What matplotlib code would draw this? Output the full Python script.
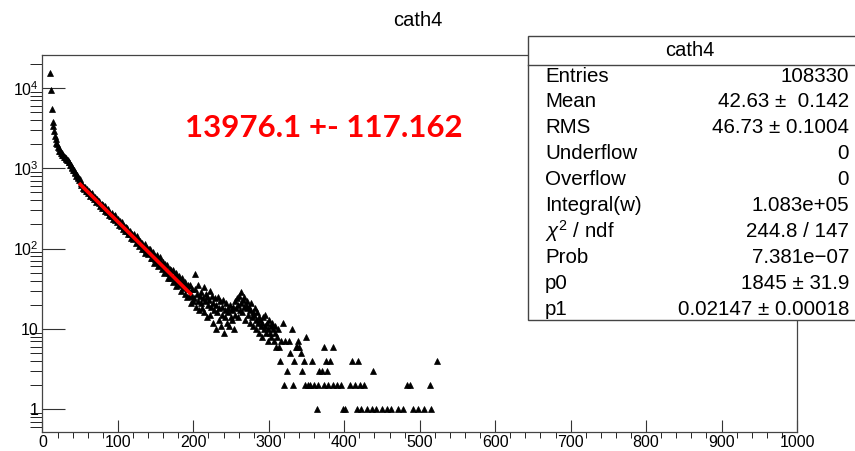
import numpy as np
import matplotlib.pyplot as plt
from matplotlib.patches import Rectangle
from matplotlib.lines import Line2D

plt.rcParams['font.family'] = ['Liberation Sans', 'DejaVu Sans']
plt.rcParams['mathtext.fontset'] = 'custom'
plt.rcParams['mathtext.rm'] = 'Liberation Sans'
plt.rcParams['mathtext.it'] = 'Liberation Sans:italic'

# histogram contents, one entry per bin of width 1, starting at bin 10
dense_start = 10
dense_counts = [
    15200, 9300, 5500, 3800, 3350, 2950, 2520, 2330, 2070, 1980,
    1820, 1790, 1660, 1650, 1540, 1560, 1450, 1470, 1370, 1400,
    1310, 1330, 1250, 1280, 1180, 1200, 1090, 1110, 1010, 1030,
    940, 955, 875, 890, 810, 835, 765, 780, 720, 735,
    652, 611, 635, 569, 585, 554, 580, 514, 544, 519,
    494, 524, 488, 452, 481, 486, 440, 445, 410, 438,
    420, 381, 412, 388, 368, 395, 339, 350, 360, 324,
    347, 320, 339, 293, 308, 288, 309, 264, 288, 272,
    257, 280, 257, 232, 255, 261, 230, 236, 212, 234,
    222, 196, 220, 204, 191, 212, 173, 183, 191, 167,
    186, 167, 182, 151, 163, 150, 166, 134, 153, 143,
    133, 151, 135, 118, 136, 142, 120, 124, 109, 126,
    118, 99, 118, 108, 99, 115, 88, 96, 103, 86,
    100, 87, 99, 77, 86, 77, 90, 67, 81, 75,
    68, 82, 71, 60, 73, 78, 62, 66, 55, 68,
    63, 50, 64, 57, 51, 63, 43, 50, 55, 43,
    54, 45, 54, 38, 45, 39, 49, 34, 44, 39,
    35, 45, 37, 30, 40, 43, 32, 35, 27, 38,
    34, 25, 35, 31, 26, 35, 21, 26, 31, 22,
    24, 31, 48, 19, 27, 22, 35, 17, 26, 21,
    29, 18, 24, 33, 16, 22, 27, 14, 25, 20,
    23, 30, 15, 19, 26, 12, 21, 17, 24, 10,
    20, 16, 25, 13, 18, 22, 11, 19, 15, 23,
    9, 17, 14, 21, 12, 18, 16, 11, 20, 14,
    17, 13, 19, 10, 22, 15, 18, 24, 14, 20,
    26, 17, 29, 21, 16, 23, 19, 25, 13, 20,
    18, 22, 15, 19, 12, 17, 21, 14, 16, 11,
    15, 18, 13, 10, 16, 12, 14, 9, 13, 11,
    12, 8, 14, 10, 11, 15, 9, 12, 7, 10,
    13, 9, 11, 8, 12, 10, 7, 9, 11, 6,
]

# sparse tail, only the non-empty bins
tail_x = [310, 311, 313, 314, 316, 318, 319, 321, 324, 326, 328, 330, 331,
          333, 335, 337, 338, 340, 342, 344, 346, 348, 349, 352, 354, 357,
          359, 363, 365, 366, 370, 372, 373, 375, 377, 378, 380, 384, 385,
          390, 395, 398, 401, 407, 410, 414, 416, 418, 420, 422, 425, 429,
          436, 438, 441, 449, 456, 462, 470, 477, 483, 486, 491, 497, 505,
          513, 514, 523]
tail_counts = [8, 10, 6, 4, 7, 12, 2, 7, 3, 7, 5, 10, 2,
               4, 6, 6, 7, 6, 5, 3, 4, 2, 8, 2, 2, 4,
               2, 1, 2, 3, 3, 2, 6, 4, 3, 2, 4, 2, 6,
               2, 2, 1, 1, 2, 4, 2, 1, 4, 2, 1, 2, 1,
               1, 3, 1, 1, 1, 1, 1, 1, 2, 2, 1, 1, 1,
               2, 1, 4]

# exponential fit p0 * exp(-p1 * x) over the fit range
p0, p1 = 1845.0, 0.02147
fit_range = (50, 196)

stat_names = ["Entries", "Mean", "RMS", "Underflow", "Overflow", "Integral(w)",
              r"$\chi^{2}$ / ndf", "Prob", "p0", "p1"]
stat_values = ["108330", "42.63 \u00b1  0.142", "46.73 \u00b1 0.1004", "0", "0",
               "1.083e+05", "244.8 / 147", "7.381e\u221207", "1845 \u00b1 31.9",
               "0.02147 \u00b1 0.00018"]

bins_x = np.concatenate([np.arange(dense_start, dense_start + len(dense_counts)),
                         tail_x]) + 0.5
counts = np.concatenate([dense_counts, tail_counts])

fig = plt.figure(figsize=(8.55, 4.51), dpi=100)
ax = fig.add_axes([0.0497, 0.0421, 0.8825, 0.8359])

ax.plot(bins_x, counts, linestyle='none', marker='^', ms=4.6, color='black',
        markeredgewidth=0.5)

xf = np.linspace(fit_range[0], fit_range[1], 200)
ax.plot(xf, p0 * np.exp(-p1 * xf), color='red', lw=2.6, zorder=3)

ax.set_yscale('log')
ax.set_xlim(0, 1000)
ax.set_ylim(0.52, 25700)

ax.set_xticks(np.arange(0, 1001, 100))
ax.set_xticks(np.arange(0, 1001, 20), minor=True)
ax.set_yticks([1, 10, 100, 1000, 10000])
ax.set_yticklabels(["1", "10", r"$10^{2}$", r"$10^{3}$", r"$10^{4}$"])
ax.yaxis.set_minor_locator(plt.matplotlib.ticker.LogLocator(base=10, subs=np.arange(2, 10)))
ax.yaxis.set_minor_formatter(plt.NullFormatter())

ax.tick_params(axis='both', direction='in', labelsize=11.5, colors='#333333',
               labelcolor='black', width=0.8, top=False, right=False)
ax.tick_params(axis='y', which='major', length=16.5, pad=3)
ax.tick_params(axis='y', which='minor', length=8.5)
ax.tick_params(axis='x', which='major', length=8.5, pad=2)
ax.tick_params(axis='x', which='minor', length=4.3)
for s in ax.spines.values():
    s.set_linewidth(0.9)
    s.set_color('#444444')

fig.text(418 / 855, 1 - 20 / 451, "cath4", ha='center', va='center', fontsize=14.5)

ax.text(0.189, 0.807, "13976.1 +- 117.162", transform=ax.transAxes, color='red',
        fontsize=22.5, fontweight='bold', family=['Lato', 'DejaVu Sans'],
        ha='left', va='center')

# statistics box
bx0, bx1 = 528 / 855, 1.02
by_top, by_bot = 1 - 36 / 451, 1 - 320 / 451
fig.patches.append(Rectangle((bx0, by_bot), bx1 - bx0, by_top - by_bot,
                             transform=fig.transFigure, facecolor='white',
                             edgecolor='#444444', lw=1.0, zorder=5))
fig.lines.append(Line2D([bx0, bx1], [1 - 65 / 451] * 2, transform=fig.transFigure,
                        color='#444444', lw=1.0, zorder=6))
fig.text(690 / 855, 1 - 50 / 451, "cath4", ha='center', va='center',
         fontsize=14.5, zorder=7)
for i, (name, val) in enumerate(zip(stat_names, stat_values)):
    y = 1 - (76 + i * 25.9) / 451
    fig.text(545 / 855, y, name, ha='left', va='center', fontsize=14.8, zorder=7)
    fig.text(849 / 855, y, val, ha='right', va='center', fontsize=14.8, zorder=7)

fig.savefig("out.png", dpi=100)
